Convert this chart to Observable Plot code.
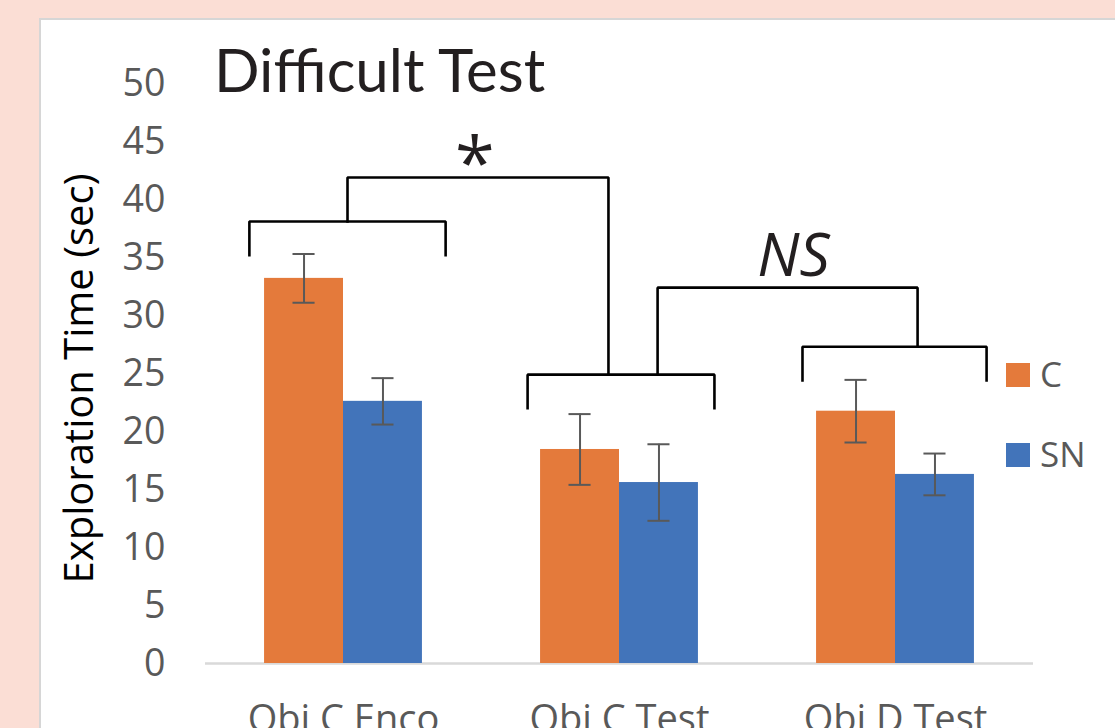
<!DOCTYPE html>
<html>
<head>
<meta charset="utf-8">
<script src="https://cdn.jsdelivr.net/npm/d3@7"></script>
<script src="https://cdn.jsdelivr.net/npm/@observablehq/plot@0.6"></script>
<style>
  html, body { margin: 0; padding: 0; }
  body { width: 1115px; height: 728px; background: #fbded5; position: relative; overflow: hidden; }
  #panel { position: absolute; left: 39px; top: 18px; width: 1200px; height: 800px; background: #fff; border: 2px solid #d6d6d6; box-sizing: border-box; }
  #chart { position: absolute; left: 0; top: 0; }
  #title { position: absolute; left: 214px; top: 39px; font: 60px Lato, "Open Sans", sans-serif; line-height: 1; color: #231f20; white-space: nowrap; }
  .leg { position: absolute; left: 1006px; font: 35px "Open Sans", sans-serif; color: #595959; line-height: 1; }
  .leg span.sw { position: absolute; left: 0; width: 24px; height: 24px; }
  .leg span.lb { position: absolute; left: 34px; white-space: nowrap; }
</style>
</head>
<body>
<div id="panel"></div>
<div id="chart"></div>
<div id="title">Difficult Test</div>
<div id="legend"></div>
<script>
// ---- data ----
const groups = ["Obj C Enco", "Obj C Test", "Obj D Test"];
const seriesNames = ["C", "SN"];
const valuesC = [33.2, 18.45, 21.75];
const valuesSN = [22.6, 15.6, 16.3];
const errC = [2.1, 3.05, 2.7];
const errSN = [2.0, 3.3, 1.8];
const yTicks = [0, 5, 10, 15, 20, 25, 30, 35, 40, 45, 50];
const colors = ["#e47a3b", "#4274ba"];
const yLabel = "Exploration Time (sec)";

// significance brackets (x in group units, y in seconds)
const bracketA = [[-0.341, 35.2], [-0.341, 38.1], [0.370, 38.1], [0.370, 35.2]];
const linkAB = [[0.0145, 38.1], [0.0145, 41.9], [0.960, 41.9], [0.960, 24.9]];
const bracketB = [[0.667, 22.0], [0.667, 24.9], [1.344, 24.9], [1.344, 22.0]];
const linkBC = [[1.138, 24.9], [1.138, 32.4], [2.080, 32.4], [2.080, 27.3]];
const bracketC = [[1.663, 24.4], [1.663, 27.3], [2.330, 27.3], [2.330, 24.4]];
const sigLabels = [{text: "*", x: 0.476, y: 44.2, italic: false}, {text: "NS", x: 1.630, y: 35.1, italic: true}];

// ---- build tables ----
const barW = 0.286;
const rows = [];
groups.forEach((g, i) => {
  rows.push({group: g, i, series: "C", value: valuesC[i], err: errC[i], x1: i - barW, x2: i});
  rows.push({group: g, i, series: "SN", value: valuesSN[i], err: errSN[i], x1: i, x2: i + barW});
});
rows.forEach(d => { d.cx = (d.x1 + d.x2) / 2; });
const capHalf = 0.04;

const lines = [];
[bracketA, linkAB, bracketB, linkBC, bracketC].forEach((b, k) => b.forEach(([x, y]) => lines.push({id: k, x, y})));

const font = "'Open Sans', sans-serif";

const chart = Plot.plot({
  width: 1115,
  height: 728,
  marginLeft: 205,
  marginRight: 82,
  marginTop: 83,
  marginBottom: 65,
  style: {fontFamily: font, background: "transparent", overflow: "visible"},
  x: {domain: [-0.5, 2.5], axis: null},
  y: {domain: [0, 50], axis: null},
  color: {domain: seriesNames, range: colors},
  marks: [
    Plot.ruleY([0], {stroke: "#d9d9d9", strokeWidth: 2.5}),
    Plot.rectY(rows, {x1: "x1", x2: "x2", y1: 0, y2: "value", fill: "series"}),
    Plot.ruleX(rows, {x: "cx", y1: d => d.value - d.err, y2: d => d.value + d.err, stroke: "#595959", strokeWidth: 2}),
    Plot.ruleY(rows, {y: d => d.value + d.err, x1: d => d.cx - capHalf, x2: d => d.cx + capHalf, stroke: "#595959", strokeWidth: 2}),
    Plot.ruleY(rows, {y: d => d.value - d.err, x1: d => d.cx - capHalf, x2: d => d.cx + capHalf, stroke: "#595959", strokeWidth: 2}),
    Plot.line(lines, {x: "x", y: "y", z: "id", stroke: "black", strokeWidth: 2.6, strokeLinejoin: "miter", strokeLinecap: "square", curve: "linear"}),
    Plot.axisY({ticks: yTicks, tickSize: 0, tickPadding: 40, fontSize: 37.5, color: "#595959", label: null, tickFormat: d => String(d)}),
    Plot.axisX({ticks: [0, 1, 2], tickSize: 0, tickPadding: 42, fontSize: 38, color: "#595959", label: null, tickFormat: i => groups[i]}),
    Plot.text([yLabel], {frameAnchor: "left", textAnchor: "middle", rotate: -90, dx: -125, dy: 5, fontSize: 40, fill: "black"}),
    Plot.text(sigLabels.filter(d => !d.italic), {x: "x", y: "y", text: "text", fontSize: 72, fill: "#231f20", dy: 14}),
    Plot.text(sigLabels.filter(d => d.italic), {x: "x", y: "y", text: "text", fontSize: 60, fontStyle: "italic", fill: "#231f20"})
  ]
});
document.getElementById("chart").appendChild(chart);

// legend
const legend = document.getElementById("legend");
const legTops = [363, 443];
seriesNames.forEach((s, k) => {
  const div = document.createElement("div");
  div.className = "leg";
  div.style.top = legTops[k] + "px";
  div.innerHTML = `<span class="sw" style="background:${colors[k]}"></span><span class="lb" style="top:-7px">${s}</span>`;
  legend.appendChild(div);
});
</script>
</body>
</html>
